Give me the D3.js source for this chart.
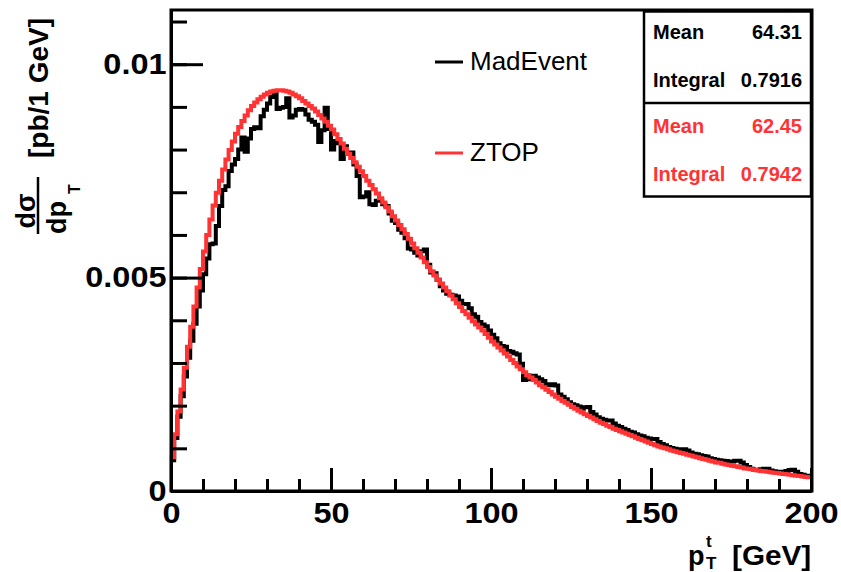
<!DOCTYPE html>
<html>
<head>
<meta charset="utf-8">
<script src="https://cdn.jsdelivr.net/npm/d3@7"></script>
<style>
  body { margin: 0; background: #fff; }
  text { font-family: "Liberation Sans", Arial, Helvetica, sans-serif; }
</style>
</head>
<body>
<script>
// p_T histograms, 1 GeV bins from 0 to 200, values in units of 1e-5 pb/GeV
var UNIT = 1e-5;
var binWidth = 1;

var madEvent = [
  72, 124, 174, 222, 268, 312, 352, 392, 432, 470,
  508, 545, 578, 580, 621, 668, 705, 714, 750, 765,
  778, 800, 828, 795, 826, 848, 852, 850, 878, 893,
  908, 923, 935, 895, 898, 900, 920, 875, 880, 893,
  895, 893, 882, 870, 865, 858, 818, 845, 898, 848,
  800, 820, 815, 778, 808, 790, 793, 765, 738, 688,
  690, 700, 672, 670, 680, 683, 672, 668, 650, 633,
  628, 612, 605, 592, 568, 566, 558, 552, 562, 566,
  530, 512, 510, 495, 480, 470, 462, 460, 458, 456,
  446, 438, 438, 428, 414, 408, 396, 390, 386, 376,
  366, 358, 346, 340, 338, 328, 326, 323, 320, 298,
  260, 262, 268, 270, 266, 262, 258, 250, 248, 250,
  247, 226, 221, 215, 208, 203, 201, 198, 193, 196,
  197, 185, 179, 173, 169, 167, 165, 165, 158, 153,
  150, 146, 143, 139, 137, 133, 130, 128, 125, 123,
  122, 122, 115, 110, 107, 103, 101, 99, 98, 98,
  98, 95, 90, 87, 86, 84, 82, 81, 77, 75,
  73, 72, 71, 70, 69, 69, 71, 71, 67, 61,
  56, 52, 50, 49, 51, 52, 52, 48, 46, 45,
  44, 45, 47, 49, 50, 45, 40, 38, 36, 36
];

var ztop = [
  79, 133, 186, 238, 289, 338, 385, 432, 477, 520,
  561, 600, 636, 669, 699, 727, 753, 777, 799, 819,
  837, 853, 867, 880, 892, 902, 910, 918, 924, 929,
  933, 936, 938, 939, 939, 938, 936, 933, 929, 925,
  920, 914, 908, 902, 896, 889, 881, 873, 865, 856,
  847, 836, 825, 814, 802, 790, 780, 770, 760, 749,
  738, 727, 717, 707, 697, 686, 676, 665, 655, 644,
  634, 623, 613, 602, 591, 580, 569, 558, 547, 536,
  525, 515, 505, 495, 486, 477, 468, 458, 449, 440,
  431, 422, 414, 406, 398, 390, 383, 376, 368, 359,
  350, 343, 336, 329, 322, 315, 307, 300, 292, 285,
  278, 272, 266, 260, 254, 248, 243, 237, 232, 226,
  221, 216, 211, 207, 202, 197, 193, 188, 184, 180,
  176, 172, 168, 164, 160, 157, 153, 150, 146, 143,
  140, 137, 134, 131, 128, 125, 122, 119, 116, 113,
  110, 107, 104, 102, 100, 98, 95, 93, 91, 89,
  87, 85, 83, 81, 79, 77, 75, 73, 71, 69,
  67, 66, 64, 62, 61, 59, 58, 56, 55, 53,
  52, 51, 49, 48, 47, 46, 45, 44, 43, 42,
  41, 40, 39, 38, 37, 36, 35, 34, 33, 32
];

var xMajorTicks = [0, 50, 100, 150, 200];
var xMinorTicks = [0, 10, 20, 30, 40, 50, 60, 70, 80, 90, 100, 110, 120, 130, 140, 150, 160, 170, 180, 190, 200];
var yMajorTicks = [0, 0.005, 0.01];
var yTickLabels = ["0", "0.005", "0.01"];
var yMinorTicks = [0, 0.001, 0.002, 0.003, 0.004, 0.005, 0.006, 0.007, 0.008, 0.009, 0.01, 0.011];

var seriesNames = ["MadEvent", "ZTOP"];
var seriesColors = ["#000000", "#ff3333"];
var statNames = ["Mean", "Integral"];
var madStats = ["64.31", "0.7916"];
var ztopStats = ["62.45", "0.7942"];

var svgWidth = 841;
var svgHeight = 572;

var svg = d3.select("body")
  .append("svg")
  .attr("width", svgWidth)
  .attr("height", svgHeight);

var x = d3.scaleLinear().domain([0, 200]).range([171, 811]);
var y = d3.scaleLinear().domain([0, 0.01127]).range([491, 10]);

// frame
svg.append("rect")
  .attr("x", x(0))
  .attr("y", y.range()[1])
  .attr("width", 812 - x(0))
  .attr("height", y(0) - y.range()[1])
  .attr("fill", "none")
  .attr("stroke", "#000")
  .attr("stroke-width", 3);

// histograms
var line = d3.line()
  .x(d => x(d[0]))
  .y(d => y(d[1] * UNIT))
  .curve(d3.curveStepAfter);

function histPoints(vals) {
  var pts = [[0, 0]];
  vals.forEach(function(v, i) { pts.push([i * binWidth, v]); });
  pts.push([vals.length * binWidth, vals[vals.length - 1]]);
  return pts;
}

[madEvent, ztop].forEach(function(vals, k) {
  svg.append("path")
    .attr("d", line(histPoints(vals)))
    .attr("fill", "none")
    .attr("stroke", seriesColors[k])
    .attr("stroke-width", 4);
});

// axes
function styleAxis(g, size) {
  g.selectAll("line, path").attr("stroke", "#000").attr("stroke-width", 3);
  g.selectAll("text")
    .attr("fill", "#000")
    .attr("transform", "scale(1.12,1)")
    .style("font-size", size + "px")
    .style("font-weight", "bold");
}

svg.append("g")
  .attr("transform", `translate(0, ${y(0)})`)
  .call(d3.axisBottom(x).tickValues(xMinorTicks).tickSize(-12).tickSizeOuter(0).tickFormat(""))
  .call(g => styleAxis(g, 28));

svg.append("g")
  .attr("transform", `translate(0, ${y(0)})`)
  .call(d3.axisBottom(x).tickValues(xMajorTicks).tickSize(-23).tickSizeOuter(0).tickPadding(11).tickFormat(d3.format("d")))
  .call(g => styleAxis(g, 29));

svg.append("g")
  .attr("transform", `translate(${x(0)}, 0)`)
  .call(d3.axisLeft(y).tickValues(yMinorTicks).tickSize(-16).tickSizeOuter(0).tickFormat(""))
  .call(g => styleAxis(g, 28));

svg.append("g")
  .attr("transform", `translate(${x(0)}, 0)`)
  .call(d3.axisLeft(y).tickValues(yMajorTicks).tickSize(-32).tickSizeOuter(0).tickPadding(4)
    .tickFormat((d, i) => yTickLabels[i]))
  .call(g => styleAxis(g, 29));

// x title: p_T^t [GeV]
var xt = svg.append("g").style("font-weight", "bold");
xt.append("text").attr("x", 688).attr("y", 565).style("font-size", "27px").text("p");
xt.append("text").attr("x", 706).attr("y", 547).style("font-size", "17px").text("t");
xt.append("text").attr("x", 706).attr("y", 569).style("font-size", "17px").text("T");
xt.append("text")
  .attr("transform", "translate(732,565) scale(1.1,1)")
  .style("font-size", "27px")
  .text("[GeV]");

// y title: d sigma / d p_T [pb/1 GeV]
var yt = svg.append("g").style("font-weight", "bold");
yt.append("text")
  .attr("transform", "translate(35,211) rotate(-90)")
  .attr("text-anchor", "middle")
  .style("font-size", "27px")
  .text("dσ");
yt.append("line")
  .attr("x1", 38).attr("x2", 38)
  .attr("y1", 177).attr("y2", 234)
  .attr("stroke", "#000").attr("stroke-width", 2.5);
yt.append("text")
  .attr("transform", "translate(66,234) rotate(-90)")
  .attr("text-anchor", "start")
  .style("font-size", "27px")
  .text("dp");
yt.append("text")
  .attr("transform", "translate(80,194) rotate(-90)")
  .style("font-size", "16px")
  .text("T");
yt.append("text")
  .attr("transform", "translate(48,158) rotate(-90)")
  .style("font-size", "28px")
  .text("[pb/1 GeV]");

// legend
var legend = svg.append("g");
seriesNames.forEach(function(name, i) {
  var ly = 62 + i * 91;
  legend.append("line")
    .attr("x1", 435).attr("x2", 463)
    .attr("y1", ly).attr("y2", ly)
    .attr("stroke", seriesColors[i]).attr("stroke-width", 3);
  legend.append("text")
    .attr("transform", `translate(470,${ly + 8}) scale(1.04,1)`)
    .style("font-size", "25px")
    .attr("fill", "#000")
    .text(name);
});

// stats box
var box = svg.append("g");
box.append("rect")
  .attr("x", 644).attr("y", 11.5)
  .attr("width", 167).attr("height", 185)
  .attr("fill", "#fff")
  .attr("stroke", "#000").attr("stroke-width", 2.5);
box.append("line")
  .attr("x1", 644).attr("x2", 811)
  .attr("y1", 103).attr("y2", 103)
  .attr("stroke", "#000").attr("stroke-width", 2.5);

[madStats, ztopStats].forEach(function(vals, k) {
  statNames.forEach(function(name, j) {
    var by = 39 + k * 94 + j * 48;
    box.append("text")
      .attr("x", 653).attr("y", by)
      .attr("fill", seriesColors[k])
      .style("font-size", "20px").style("font-weight", "bold")
      .text(name);
    box.append("text")
      .attr("x", 802).attr("y", by)
      .attr("text-anchor", "end")
      .attr("fill", seriesColors[k])
      .style("font-size", "20px").style("font-weight", "bold")
      .text(vals[j]);
  });
});
</script>
</body>
</html>
